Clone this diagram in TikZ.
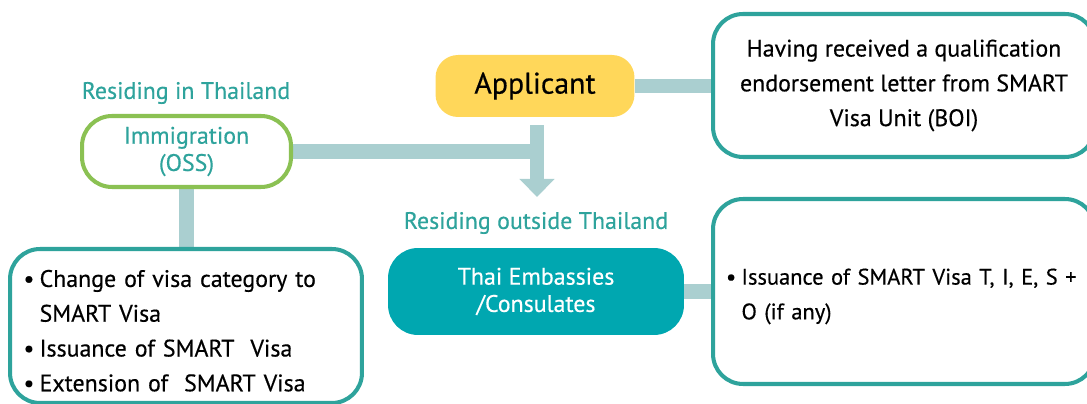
\documentclass[tikz,border=0pt]{standalone}
\usepackage{fontspec}
\setmainfont{PT Sans}[UprightFeatures={FakeBold=0.4}]
\usetikzlibrary{arrows.meta,backgrounds}
\definecolor{boxteal}{HTML}{2EA39C}
\definecolor{linkteal}{HTML}{AACFD0}
\definecolor{leafgreen}{HTML}{8BC153}
\definecolor{appyellow}{HTML}{FFD75A}
\definecolor{embteal}{HTML}{00A7B0}
\begin{document}
\begin{tikzpicture}[x=0.02cm,y=-0.02cm,
    every node/.style={font=\fontsize{13.6}{19.8}\selectfont},
    box/.style={draw=boxteal,line width=2.3pt,rounded corners=0.6cm,fill=white},
    link/.style={draw=linkteal,line width=8pt},
    side/.style={text=boxteal},
    tight/.style={font=\fontsize{13.6}{15.5}\selectfont}]
  \useasboundingbox (0,0) rectangle (1087,404);
  \clip (0,0) rectangle (1087,404);

  % applicant and letter
  \node[fill=appyellow,rounded corners=0.45cm,minimum width=3.98cm,minimum height=1.24cm,
        font=\fontsize{17}{20}\selectfont] (app) at (535,86) {Applicant};
  \node[box,minimum width=7.64cm,minimum height=2.86cm,align=center] (letter) at (904,85.5)
    {Having received a qualification\\endorsement letter from SMART\\Visa Unit (BOI)};

  % residing in Thailand
  \node[side] (inth) at (186,93) {Residing in Thailand};
  \node[box,tight,draw=leafgreen,text=boxteal,minimum width=4.18cm,minimum height=1.42cm,align=center] (imm) at (186.5,151.5)
    {Immigration\\(OSS)};
  \node[box,minimum width=7.04cm,minimum height=3.08cm,text width=6.5cm,inner xsep=0.27cm] (change) at (186,326)
    {\raisebox{-3.5pt}[\height][\depth]{\begin{tabular}{@{}l@{\hspace{3pt}}l@{}}
       \textbullet & Change of visa category to\\
                   & SMART Visa\\
       \textbullet & Issuance of SMART\ \ Visa\\
       \textbullet & Extension of\ \ SMART Visa
     \end{tabular}}};

  % residing outside Thailand
  \node[side] (outth) at (536,223) {Residing outside Thailand};
  \node[tight,fill=embteal,text=white,rounded corners=0.6cm,minimum width=5.92cm,minimum height=1.74cm,align=center] (emb) at (536,291.5)
    {Thai Embassies\\/Consulates};
  \node[box,minimum width=7.64cm,minimum height=3.7cm,text width=7.12cm,inner xsep=0.26cm,
        font=\fontsize{12.8}{19.8}\selectfont] (issue) at (904,291.5)
    {\raisebox{-2pt}[\height][\depth]{\begin{tabular}{@{}l@{\hspace{3pt}}l@{}}
       \textbullet & Issuance of SMART Visa T, I, E, S +\\
                   & O (if any)
     \end{tabular}}};

  \coordinate (tip) at (537,197);

  \begin{scope}[on background layer]
    \draw[link] (app.east) -- (app.east -| letter.west);
    \draw[link] (imm.east) -- (imm.east -| tip);
    \draw[link,-{Triangle[width=0.68cm,length=0.36cm]}] ([yshift=-0.16cm]app.south -| tip) -- (tip);
    \draw[link] (imm.south) -- (imm.south |- change.north);
    \draw[link] (emb.east) -- (emb.east -| issue.west);
  \end{scope}
\end{tikzpicture}
\end{document}
